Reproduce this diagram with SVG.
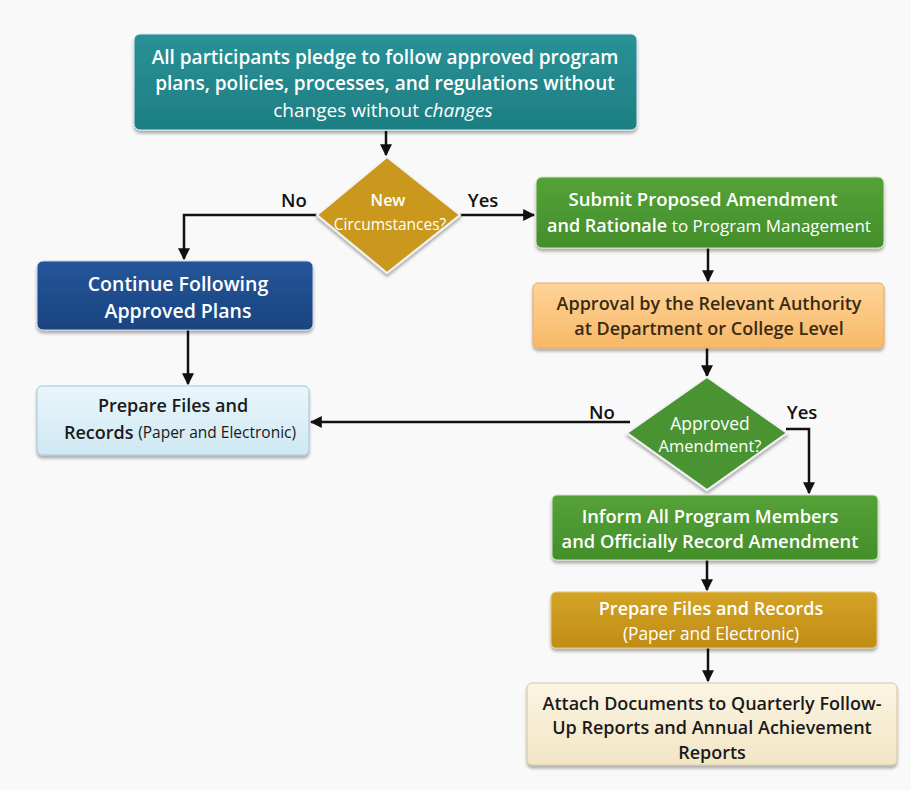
<svg xmlns="http://www.w3.org/2000/svg" width="911" height="790" viewBox="0 0 911 790">
<defs>
<marker id="ah" viewBox="0 0 10 10" refX="9" refY="5" markerWidth="12" markerHeight="12" markerUnits="userSpaceOnUse" orient="auto"><path d="M0,0 L10,5 L0,10 z" fill="#111"/></marker>
<linearGradient id="gTeal" x1="0" y1="0" x2="0" y2="1"><stop offset="0" stop-color="#2a9196"/><stop offset="1" stop-color="#1d7e83"/></linearGradient>
<linearGradient id="gGreen" x1="0" y1="0" x2="0" y2="1"><stop offset="0" stop-color="#55a238"/><stop offset="1" stop-color="#438e2a"/></linearGradient>
<linearGradient id="gOrange" x1="0" y1="0" x2="0" y2="1"><stop offset="0" stop-color="#fdd49a"/><stop offset="1" stop-color="#f8b866"/></linearGradient>
<linearGradient id="gBlue" x1="0" y1="0" x2="0" y2="1"><stop offset="0" stop-color="#24559a"/><stop offset="1" stop-color="#1b447f"/></linearGradient>
<linearGradient id="gLight" x1="0" y1="0" x2="0" y2="1"><stop offset="0" stop-color="#eaf6fb"/><stop offset="1" stop-color="#cfe8f3"/></linearGradient>
<linearGradient id="gGold" x1="0" y1="0" x2="0" y2="1"><stop offset="0" stop-color="#d3a326"/><stop offset="1" stop-color="#c08d16"/></linearGradient>
<linearGradient id="gCream" x1="0" y1="0" x2="0" y2="1"><stop offset="0" stop-color="#fbf4e2"/><stop offset="1" stop-color="#f3e6c6"/></linearGradient>
<filter id="sh" x="-5%" y="-10%" width="110%" height="130%"><feDropShadow dx="0" dy="3" stdDeviation="1.5" flood-color="#000" flood-opacity="0.3"/></filter>
</defs>
<style>
text{font-family:"Open Sans","Noto Sans","Liberation Sans",sans-serif;font-weight:600;text-anchor:middle;dominant-baseline:central}
.w{fill:#ffffff}
.d{fill:#1a1a1a}
.br{fill:#3b2a12}
.lbl{font-size:18.5px;fill:#111}
.reg{font-weight:400}
.conn{stroke:#111;stroke-width:2.5;fill:none}
</style>
<rect width="911" height="790" fill="#f9f9f9"/>
<g id="connectors">
<path class="conn" d="M386,131 V155" marker-end="url(#ah)"/>
<path class="conn" d="M317,215 H184 V259" marker-end="url(#ah)"/>
<path class="conn" d="M460,215 H534" marker-end="url(#ah)"/>
<path class="conn" d="M708,248 V281" marker-end="url(#ah)"/>
<path class="conn" d="M188,330 V384" marker-end="url(#ah)"/>
<path class="conn" d="M707,347 V376" marker-end="url(#ah)"/>
<path class="conn" d="M630,422 H311" marker-end="url(#ah)"/>
<path class="conn" d="M786,429 H809 V493" marker-end="url(#ah)"/>
<path class="conn" d="M707,560 V590" marker-end="url(#ah)"/>
<path class="conn" d="M708,648 V681" marker-end="url(#ah)"/>
<text class="lbl" x="294" y="199">No</text>
<text class="lbl" x="483" y="199">Yes</text>
<text class="lbl" x="602" y="411">No</text>
<text class="lbl" x="802" y="411">Yes</text>
</g>
<g id="n1">
<rect x="134" y="34" width="503" height="96" rx="6" fill="url(#gTeal)" stroke="#d8e8e8" stroke-width="1" filter="url(#sh)"/>
<text class="w" font-size="19" x="385" y="57">All participants pledge to follow approved program</text>
<text class="w" font-size="19" x="385" y="83">plans, policies, processes, and regulations without</text>
<text class="w reg" font-size="19" x="383" y="110">changes without <tspan font-style="italic">changes</tspan></text>
</g>
<g id="d1">
<path d="M387,157 L460,215 L387,273 L317,215 Z" fill="#c9981c" stroke="#f3f3f3" stroke-width="2" filter="url(#sh)"/>
<text class="w" font-size="16" x="388" y="200">New</text>
<text class="w reg" font-size="15.5" x="390" y="224">Circumstances?</text>
</g>
<g id="n2">
<rect x="536" y="177" width="348" height="71" rx="6" fill="url(#gGreen)" stroke="#cfe3c5" stroke-width="1" filter="url(#sh)"/>
<text class="w" font-size="18.5" x="703" y="198">Submit Proposed Amendment</text>
<text class="w" font-size="18" x="709" y="225">and Rationale <tspan class="reg" font-size="17">to Program Management</tspan></text>
</g>
<g id="n3">
<rect x="37" y="261" width="276" height="69" rx="6" fill="url(#gBlue)" stroke="#c9d4e4" stroke-width="1" filter="url(#sh)"/>
<text class="w" font-size="19.5" x="178" y="283">Continue Following</text>
<text class="w" font-size="19.5" x="178" y="310">Approved Plans</text>
</g>
<g id="n4">
<rect x="533" y="283" width="351" height="65" rx="5" fill="url(#gOrange)" stroke="#e7a960" stroke-width="1" filter="url(#sh)"/>
<text class="br" font-size="18" x="709" y="303">Approval by the Relevant Authority</text>
<text class="br" font-size="18" x="709" y="328">at Department or College Level</text>
</g>
<g id="n5">
<rect x="37" y="386" width="272" height="69" rx="5" fill="url(#gLight)" stroke="#9fc6d6" stroke-width="1" filter="url(#sh)"/>
<text class="d" font-size="18" x="173" y="405">Prepare Files and</text>
<text class="d" font-size="18" x="180" y="432">Records <tspan class="reg" font-size="15.5">(Paper and Electronic)</tspan></text>
</g>
<g id="d2">
<path d="M707,377 L787,433 L707,490 L627,433 Z" fill="#4a9330" stroke="#f3f3f3" stroke-width="2" filter="url(#sh)"/>
<text class="w reg" font-size="17.5" x="710" y="423">Approved</text>
<text class="w reg" font-size="16.5" x="710" y="445">Amendment?</text>
</g>
<g id="n6">
<rect x="552" y="495" width="326" height="65" rx="5" fill="url(#gGreen)" stroke="#cfe3c5" stroke-width="1" filter="url(#sh)"/>
<text class="w" font-size="18.3" x="710" y="515">Inform All Program Members</text>
<text class="w" font-size="18.3" x="710" y="540">and Officially Record Amendment</text>
</g>
<g id="n7">
<rect x="551" y="592" width="326" height="56" rx="5" fill="url(#gGold)" stroke="#e3c77a" stroke-width="1" filter="url(#sh)"/>
<text class="w" font-size="18" x="711" y="608">Prepare Files and Records</text>
<text class="w reg" font-size="17.3" x="711" y="633">(Paper and Electronic)</text>
</g>
<g id="n8">
<rect x="527" y="683" width="370" height="82" rx="5" fill="url(#gCream)" stroke="#d6c69c" stroke-width="1" filter="url(#sh)"/>
<text class="d" font-size="18" x="712" y="703">Attach Documents to Quarterly Follow-</text>
<text class="d" font-size="18" x="712" y="727">Up Reports and Annual Achievement</text>
<text class="d" font-size="18" x="712" y="752">Reports</text>
</g>
</svg>
